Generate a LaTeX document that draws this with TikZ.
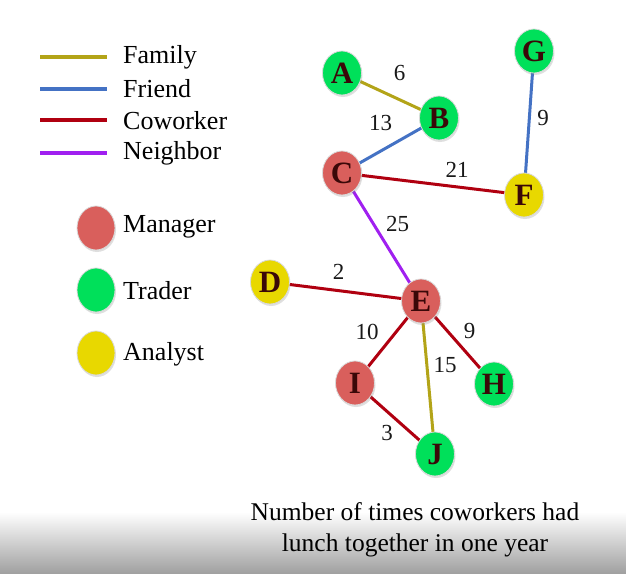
\documentclass[tikz,border=0pt]{standalone}
\usepackage{fontspec}
\setmainfont{Liberation Serif}
\usetikzlibrary{shadows,backgrounds,shapes.geometric}
\definecolor{mgr}{HTML}{D95F5C}
\definecolor{trd}{HTML}{00E05A}
\definecolor{ana}{HTML}{E8D800}
\definecolor{fam}{HTML}{B3A418}
\definecolor{fri}{HTML}{4472C4}
\definecolor{cow}{HTML}{B00010}
\definecolor{nei}{HTML}{A020F0}
\definecolor{let}{HTML}{3A0808}
\tikzset{
  vtx/.style={ellipse, minimum width=39pt, minimum height=44pt, inner sep=0pt,
    draw=white!85!black, line width=0.8pt, text=let,
    font=\fontsize{31}{31}\selectfont\bfseries,
    drop shadow={opacity=0.25, shadow xshift=1pt, shadow yshift=-2pt}},
  manager/.style={vtx, fill=mgr},
  trader/.style={vtx, fill=trd},
  analyst/.style={vtx, fill=ana},
  lgdot/.style={ellipse, minimum width=38pt, minimum height=44pt, inner sep=0pt,
    draw=white!85!black, line width=0.8pt,
    drop shadow={opacity=0.25, shadow xshift=1pt, shadow yshift=-2pt}},
  edge/.style={line width=3pt},
  lgline/.style={line width=4pt},
  wt/.style={font=\fontsize{23}{23}\selectfont, inner sep=0pt, text=black!90},
  lgtext/.style={anchor=west, inner sep=0pt, font=\fontsize{26}{26}\selectfont},
}
\begin{document}
\begin{tikzpicture}[x=1pt,y=-1pt]
\useasboundingbox (0,0) rectangle (626,573);

% legend lines
\coordinate (l1a) at (40,57);  \coordinate (l1b) at (107,57);
\coordinate (l2a) at (40,89);  \coordinate (l2b) at (107,89);
\coordinate (l3a) at (40,120); \coordinate (l3b) at (107,120);
\coordinate (l4a) at (40,153); \coordinate (l4b) at (107,153);
\draw[lgline, fam] (l1a) -- (l1b);
\draw[lgline, fri] (l2a) -- (l2b);
\draw[lgline, cow] (l3a) -- (l3b);
\draw[lgline, nei] (l4a) -- (l4b);
\node[lgtext] (tfam) at (123,57) {Family};
\node[lgtext] (tfri) at (123,89) {Friend};
\node[lgtext] (tcow) at (123,121) {Coworker};
\node[lgtext] (tnei) at (123,153) {Neighbor};

% legend dots
\node[lgdot, fill=mgr] (dm) at (96,228) {};
\node[lgdot, fill=trd] (dt) at (96,290) {};
\node[lgdot, fill=ana] (da) at (96,353) {};
\node[lgtext] (tm) at (123,227) {Manager};
\node[lgtext] (tt) at (123,291) {Trader};
\node[lgtext] (ta) at (123,354) {Analyst};

% graph nodes
\node[trader]  (A) at (342,73)  {A};
\node[trader]  (B) at (439,118) {B};
\node[manager] (C) at (342,173) {C};
\node[analyst] (D) at (270,282) {D};
\node[manager] (E) at (421,301) {E};
\node[analyst] (F) at (524,195) {F};
\node[trader]  (G) at (534,51)  {G};
\node[trader]  (H) at (494,384) {H};
\node[manager] (I) at (355,383) {I};
\node[trader]  (J) at (435,454) {J};

\begin{scope}[on background layer]
\shade[top color=white, bottom color=black!37] (0,512) rectangle (626,573);
\draw[edge, fam] (A.center) -- node[wt, xshift=9pt, yshift=23pt] {6} (B.center);
\draw[edge, fri] (B.center) -- node[wt, xshift=-10pt, yshift=23pt] {13} (C.center);
\draw[edge, cow] (C.center) -- node[wt, xshift=24pt, yshift=14pt] {21} (F.center);
\draw[edge, fri] (G.center) -- node[wt, xshift=14pt, yshift=5pt] {9} (F.center);
\draw[edge, nei] (C.center) -- node[wt, xshift=16pt, yshift=13pt] {25} (E.center);
\draw[edge, cow] (D.center) -- node[wt, xshift=-7pt, yshift=20pt] {2} (E.center);
\draw[edge, cow] (E.center) -- node[wt, xshift=-21pt, yshift=10pt] {10} (I.center);
\draw[edge, cow] (E.center) -- node[wt, xshift=12pt, yshift=12pt] {9} (H.center);
\draw[edge, fam] (E.center) -- node[wt, xshift=17pt, yshift=12pt] {15} (J.center);
\draw[edge, cow] (I.center) -- node[wt, xshift=-8pt, yshift=-14pt] {3} (J.center);
\end{scope}

\node[align=center, inner sep=0pt, font=\fontsize{25.5}{31}\selectfont] (cap) at (415,530)
  {Number of times coworkers had\\lunch together in one year};
\end{tikzpicture}
\end{document}
